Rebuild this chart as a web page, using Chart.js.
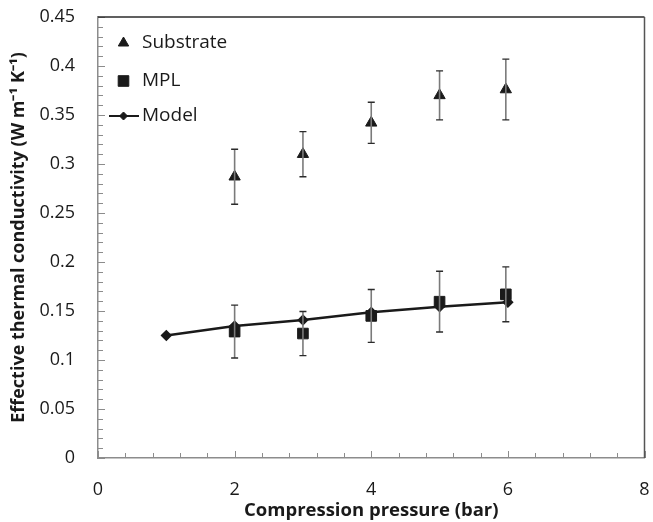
<!DOCTYPE html>
<html>
<head>
<meta charset="utf-8">
<script src="https://cdn.jsdelivr.net/npm/chart.js@4"></script>
<style>
  html, body { margin: 0; padding: 0; background: #fff; }
  #wrap { width: 653px; height: 522px; }
</style>
</head>
<body>
<div id="wrap"><canvas id="chart" width="653" height="522"></canvas></div>
<script>
// ===== Data =====
const pressure = [2, 3, 4, 5, 5.97];
const substrate = [0.287, 0.310, 0.342, 0.370, 0.376];
const substrateErr = [0.028, 0.023, 0.021, 0.025, 0.031];
const mpl = [0.129, 0.127, 0.145, 0.1595, 0.167];
const mplErr = [0.027, 0.0225, 0.027, 0.031, 0.028];
const modelPressure = [1, 2, 3, 4, 5, 6];
const model = [0.125, 0.1347, 0.1408, 0.1487, 0.1544, 0.159];
const yTickLabels = ['0', '0.05', '0.1', '0.15', '0.2', '0.25', '0.3', '0.35', '0.4', '0.45'];
const xTickLabels = ['0', '2', '4', '6', '8'];

const FONT = "'Open Sans', 'Liberation Sans', sans-serif";
const INK = '#1a1a1a';

const toPoints = (xs, ys) => xs.map((x, i) => ({ x: x, y: ys[i] }));

// ===== Plugin: inner tick marks + frame =====
const frameTicks = {
  id: 'frameTicks',
  afterDraw(chart) {
    const { ctx, chartArea: a, scales: { x, y } } = chart;
    ctx.save();
    ctx.lineWidth = 1;
    ctx.strokeStyle = '#8c8c8c';
    // y ticks, every 0.01, major every 0.05
    for (let i = 0; i <= 45; i++) {
      const py = Math.round(y.getPixelForValue(i / 100)) + 0.5;
      const len = i % 5 === 0 ? 7 : 5;
      ctx.beginPath();
      ctx.moveTo(a.left, py);
      ctx.lineTo(a.left + len, py);
      ctx.stroke();
    }
    // x ticks, every 0.4, major every 2
    for (let i = 0; i <= 20; i++) {
      const px = Math.round(x.getPixelForValue(i * 0.4)) + 0.5;
      const len = i % 5 === 0 ? 7 : 5;
      ctx.beginPath();
      ctx.moveTo(px, a.bottom);
      ctx.lineTo(px, a.bottom - len);
      ctx.stroke();
    }
    // top and right frame
    ctx.lineWidth = 1.5;
    ctx.strokeStyle = '#2b2b2b';
    ctx.beginPath();
    ctx.moveTo(a.left, a.top);
    ctx.lineTo(a.right, a.top);
    ctx.stroke();
    ctx.strokeStyle = '#555';
    ctx.beginPath();
    ctx.moveTo(a.right, a.top);
    ctx.lineTo(a.right, a.bottom);
    ctx.stroke();
    ctx.restore();
  }
};

// ===== Plugin: error bars =====
const errorBars = {
  id: 'errorBars',
  afterDatasetsDraw(chart) {
    const { ctx, scales: { x, y } } = chart;
    ctx.save();
    chart.data.datasets.forEach(ds => {
      if (!ds.errors) return;
      ds.data.forEach((p, i) => {
        const px = x.getPixelForValue(p.x);
        const top = y.getPixelForValue(p.y + ds.errors[i]);
        const bot = y.getPixelForValue(p.y - ds.errors[i]);
        ctx.strokeStyle = '#7a7a7a';
        ctx.lineWidth = 1.6;
        ctx.beginPath();
        ctx.moveTo(px, top);
        ctx.lineTo(px, bot);
        ctx.stroke();
        ctx.strokeStyle = '#2b2b2b';
        ctx.lineWidth = 1.4;
        ctx.beginPath();
        ctx.moveTo(px - 3.5, top);
        ctx.lineTo(px + 3.5, top);
        ctx.moveTo(px - 3.5, bot);
        ctx.lineTo(px + 3.5, bot);
        ctx.stroke();
      });
    });
    ctx.restore();
  }
};

// ===== Plugin: legend inside plot =====
const innerLegend = {
  id: 'innerLegend',
  afterDraw(chart) {
    const { ctx } = chart;
    const draw = Chart.helpers.drawPoint;
    ctx.save();
    ctx.fillStyle = INK;
    ctx.strokeStyle = INK;
    ctx.font = '19px ' + FONT;
    ctx.textBaseline = 'middle';
    const rows = [
      { y: 43, label: 'Substrate', style: 'triangle', r: 6 },
      { y: 81, label: 'MPL', style: 'rect', r: 7.5 },
      { y: 116, label: 'Model', style: 'rectRot', r: 4, line: true }
    ];
    rows.forEach(row => {
      if (row.line) {
        ctx.lineWidth = 2;
        ctx.beginPath();
        ctx.moveTo(109, row.y);
        ctx.lineTo(139, row.y);
        ctx.stroke();
      }
      ctx.lineWidth = 1;
      draw(ctx, { pointStyle: row.style, radius: row.r, rotation: 0, borderWidth: 1 }, 123.5, row.y);
      ctx.fillText(row.label, 142, row.y);
    });
    ctx.restore();
  }
};

// ===== Chart =====
new Chart(document.getElementById('chart'), {
  type: 'scatter',
  data: {
    datasets: [
      {
        label: 'Model',
        type: 'line',
        data: toPoints(modelPressure, model),
        borderColor: INK,
        backgroundColor: INK,
        borderWidth: 2.5,
        pointStyle: 'rectRot',
        pointRadius: 4,
        tension: 0,
        order: 0
      },
      {
        label: 'MPL',
        data: toPoints(pressure, mpl),
        errors: mplErr,
        pointStyle: 'rect',
        pointRadius: 7.5,
        backgroundColor: INK,
        borderColor: INK,
        borderWidth: 1,
        order: 1
      },
      {
        label: 'Substrate',
        data: toPoints(pressure, substrate),
        errors: substrateErr,
        pointStyle: 'triangle',
        pointRadius: 6.5,
        backgroundColor: INK,
        borderColor: INK,
        borderWidth: 1,
        order: 2
      }
    ]
  },
  options: {
    responsive: false,
    animation: false,
    layout: { padding: { top: 17, right: 7, left: 0, bottom: 0 } },
    plugins: { legend: { display: false }, tooltip: { enabled: false } },
    scales: {
      x: {
        type: 'linear',
        min: 0,
        max: 8,
        grid: { display: false, drawTicks: false },
        border: { display: true, color: '#8c8c8c', width: 1.5 },
        afterFit: s => { s.height = 64; s.paddingLeft = 0; s.paddingRight = 0; },
        ticks: {
          stepSize: 2,
          padding: 21,
          color: INK,
          font: { family: FONT, size: 18 },
          callback: (v) => xTickLabels[v / 2] ?? ''
        },
        title: {
          display: true,
          text: 'Compression pressure (bar)',
          color: INK,
          font: { family: FONT, size: 18.5, weight: 'bold' },
          padding: { top: 0, bottom: 0 }
        }
      },
      y: {
        min: 0,
        max: 0.45,
        grid: { display: false, drawTicks: false },
        border: { display: true, color: '#8c8c8c', width: 1.5 },
        afterFit: s => { s.width = 98; s.paddingTop = 0; s.paddingBottom = 0; },
        ticks: {
          stepSize: 0.05,
          padding: 23,
          color: INK,
          font: { family: FONT, size: 18 },
          callback: (v) => yTickLabels[Math.round(v / 0.05)] ?? ''
        },
        title: {
          display: true,
          text: 'Effective thermal conductivity (W m\u207B\u00B9 K\u207B\u00B9)',
          color: INK,
          font: { family: FONT, size: 18, weight: 'bold' },
          padding: { top: 8, bottom: 0 }
        }
      }
    }
  },
  plugins: [frameTicks, errorBars, innerLegend]
});
</script>
</body>
</html>
